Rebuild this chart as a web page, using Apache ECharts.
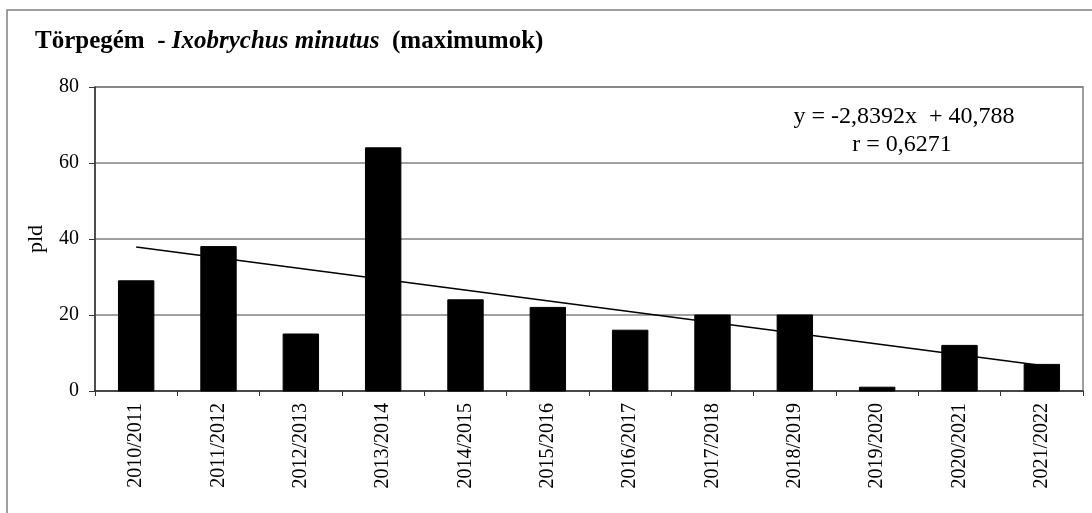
<!DOCTYPE html>
<html>
<head>
<meta charset="utf-8">
<script src="https://cdn.jsdelivr.net/npm/echarts@6/dist/echarts.min.js"></script>
<style>
html,body{margin:0;padding:0;background:#fff;}
#chart{width:1092px;height:513px;}
</style>
</head>
<body>
<div id="chart"></div>
<script>
const categories = ['2010/2011','2011/2012','2012/2013','2013/2014','2014/2015','2015/2016','2016/2017','2017/2018','2018/2019','2019/2020','2020/2021','2021/2022'];
const values = [29, 38, 15, 64, 24, 22, 16, 20, 20, 1, 12, 7];
const trendEnds = [37.9, 6.7];
const yTicks = [0, 20, 40, 60, 80];
const equationLines = ['y = -2,8392x  + 40,788', 'r = 0,6271'];

const trendData = categories.map((c, i) => i === 0 ? trendEnds[0] : (i === categories.length - 1 ? trendEnds[1] : '-'));

const FONT = '"Liberation Serif", "Times New Roman", serif';
const chart = echarts.init(document.getElementById('chart'), null, {renderer: 'canvas'});
chart.setOption({
  animation: false,
  backgroundColor: '#fff',
  textStyle: {fontFamily: FONT, color: '#000'},
  title: {
    left: 30, top: 24,
    text: '{b|Törpegém  - }{i|Ixobrychus minutus}{b|  (maximumok)}',
    textStyle: {
      rich: {
        b: {fontFamily: FONT, fontWeight: 'bold', fontSize: 25, color: '#000'},
        i: {fontFamily: FONT, fontWeight: 'bold', fontStyle: 'italic', fontSize: 25, color: '#000'}
      }
    }
  },
  grid: {left: 95, right: 9, top: 87, bottom: 122, show: true, borderColor: '#808080', borderWidth: 1.5, containLabel: false},
  xAxis: {
    type: 'category',
    data: categories,
    axisLine: {lineStyle: {color: '#333', width: 1.5}},
    axisTick: {show: true, length: 5, lineStyle: {color: '#333'}},
    axisLabel: {rotate: 90, fontSize: 20, color: '#000', margin: 12, fontFamily: FONT}
  },
  yAxis: {
    type: 'value',
    min: yTicks[0], max: yTicks[yTicks.length - 1], interval: 20,
    name: 'pld', nameLocation: 'middle', nameGap: 48, nameRotate: 90,
    nameTextStyle: {fontSize: 22, color: '#000', fontFamily: FONT},
    axisLine: {show: true, lineStyle: {color: '#333', width: 1.5}},
    axisTick: {show: true, length: 6, lineStyle: {color: '#333'}},
    axisLabel: {fontSize: 20, color: '#000', margin: 16, fontFamily: FONT},
    splitLine: {show: true, lineStyle: {color: '#808080', width: 1.5}}
  },
  graphic: [
    {type: 'rect', silent: true, z: -10, shape: {x: 7, y: 10, width: 1200, height: 600}, style: {fill: 'none', stroke: '#808080', lineWidth: 1.5}},
    {type: 'text', x: 904, y: 117, style: {text: equationLines[0], font: '24px ' + FONT, fill: '#000', textAlign: 'center', textVerticalAlign: 'middle'}},
    {type: 'text', x: 902, y: 145, style: {text: equationLines[1], font: '24px ' + FONT, fill: '#000', textAlign: 'center', textVerticalAlign: 'middle'}}
  ],
  series: [
    {type: 'bar', data: values, barWidth: '43%', itemStyle: {color: '#000', borderColor: '#000'}},
    {type: 'line', data: trendData, connectNulls: true, symbol: 'none', lineStyle: {color: '#000', width: 1.6}, z: 5}
  ]
});
</script>
</body>
</html>
